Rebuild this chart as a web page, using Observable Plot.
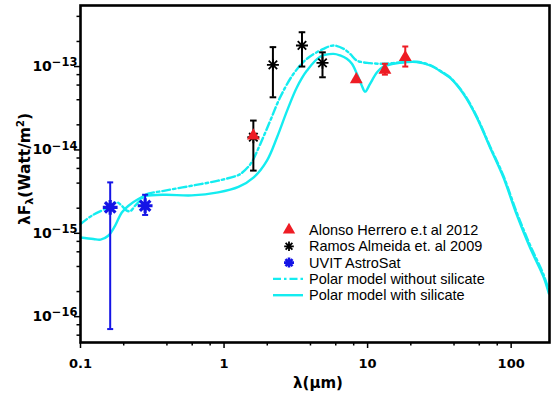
<!DOCTYPE html>
<html>
<head>
<meta charset="utf-8">
<script src="https://cdn.jsdelivr.net/npm/d3@7"></script>
<script src="https://cdn.jsdelivr.net/npm/@observablehq/plot@0.6"></script>
<style>
  body { margin: 0; background: #fff; }
  #chart svg { display: block; }
</style>
</head>
<body>
<div id="chart"></div>
<script>
// Photometry: wavelength (µm), λFλ (W/m²), and error-bar limits
const alonsoWave = [1.6, 8.34, 13.2, 18.3];
const alonsoFlux = [1.48e-14, 7.0e-14, 9.1e-14, 1.29e-13];
const alonsoLow  = [null, null, 8.0e-14, 1.0e-13];
const alonsoHigh = [null, null, 1.08e-13, 1.74e-13];

const ramosWave = [1.6, 2.19, 3.49, 4.85];
const ramosFlux = [1.42e-14, 1.05e-13, 1.79e-13, 1.11e-13];
const ramosLow  = [5.65e-15, 4.28e-14, 1.0e-13, 7.44e-14];
const ramosHigh = [2.25e-14, 1.71e-13, 2.58e-13, 1.48e-13];

const uvitWave = [0.161, 0.282];
const uvitFlux = [2.05e-15, 2.14e-15];
const uvitLow  = [7.1e-17, 1.66e-15];
const uvitHigh = [4.08e-15, 2.9e-15];

// Polar dust model with silicate features
const silWave = [0.1, 0.123, 0.138, 0.156, 0.174, 0.194, 0.216, 0.253, 0.283, 0.388, 0.595, 0.91, 1.26,
  1.61, 1.99, 2.34, 2.75, 3.22, 3.78, 4.69, 5.79, 6.44, 7.17, 7.78, 8.42, 9.12, 9.61, 10.4, 11.6, 12.9,
  15.1, 18.8, 22.0, 27.3, 33.8, 37.6, 46.5, 57.6, 71.3, 88.3, 109, 135, 168, 183];
const silFlux = [8.9e-16, 8.55e-16, 8.4e-16, 9.35e-16, 1.23e-15, 1.78e-15, 2.14e-15, 2.58e-15, 2.8e-15,
  2.9e-15, 2.85e-15, 3.1e-15, 3.6e-15, 4.69e-15, 7.45e-15, 1.42e-14, 2.96e-14, 5.65e-14, 8.95e-14,
  1.32e-13, 1.42e-13, 1.36e-13, 1.24e-13, 1.08e-13, 8.2e-14, 5.9e-14, 5.0e-14, 6.2e-14, 8.5e-14,
  1.0e-13, 1.08e-13, 1.13e-13, 1.13e-13, 1.03e-13, 8.3e-14, 7.3e-14, 4.7e-14, 2.46e-14, 1.07e-14,
  4.69e-15, 1.7e-15, 6.8e-16, 3.0e-16, 1.9e-16];

// Polar dust model without silicate
const noSilWave = [0.1, 0.12, 0.157, 0.179, 0.194, 0.21, 0.223, 0.24, 0.266, 0.282, 0.388, 0.595, 0.91,
  1.22, 1.3, 1.53, 1.79, 2.1, 2.46, 3.05, 3.78, 4.93, 5.79, 6.82, 7.55, 8.42, 10.4, 12.9, 15.1, 18.8,
  22.0, 27.3, 33.8, 37.6, 46.5, 57.6, 71.3, 88.3, 109, 135, 168, 183];
const noSilFlux = [1.29e-15, 1.63e-15, 2.05e-15, 2.35e-15, 2.14e-15, 1.87e-15, 1.85e-15, 2.14e-15,
  2.58e-15, 2.9e-15, 3.25e-15, 3.72e-15, 4.28e-15, 4.9e-15, 5.15e-15, 6.8e-15, 1.18e-14, 2.25e-14,
  4.28e-14, 8.2e-14, 1.24e-13, 1.63e-13, 1.79e-13, 1.63e-13, 1.42e-13, 1.18e-13, 1.1e-13, 1.08e-13,
  1.1e-13, 1.14e-13, 1.14e-13, 1.04e-13, 8.4e-14, 7.4e-14, 4.8e-14, 2.52e-14, 1.1e-14, 4.9e-15,
  1.8e-15, 7.3e-16, 3.2e-16, 2.05e-16];

const xMajor = [0.1, 1, 10, 100];
const xMinor = [0.2, 0.4, 0.6, 0.8, 2, 4, 6, 8, 20, 40, 60, 80];
const yMajor = [1e-16, 1e-15, 1e-14, 1e-13];
const yMinor = [6e-17, 8e-17, 2e-16, 4e-16, 6e-16, 8e-16, 2e-15, 4e-15, 6e-15, 8e-15,
  2e-14, 4e-14, 6e-14, 8e-14, 2e-13, 4e-13];

const legendLabels = ["Alonso Herrero e.t al 2012", "Ramos Almeida et. al 2009", "UVIT AstroSat",
  "Polar model without silicate", "Polar model with silicate"];

const cyan = "#14ecf0";
const red = "#ee1c24";
const blue = "#1414e6";

const rows = (w, f, lo, hi) => w.map((x, i) => ({x, y: f[i], lo: lo ? lo[i] : null, hi: hi ? hi[i] : null}));
const alonso = rows(alonsoWave, alonsoFlux, alonsoLow, alonsoHigh);
const ramos = rows(ramosWave, ramosFlux, ramosLow, ramosHigh);
const uvit = rows(uvitWave, uvitFlux, uvitLow, uvitHigh);
const withSil = rows(silWave, silFlux);
const withoutSil = rows(noSilWave, noSilFlux);

// eight-armed asterisk and horizontal error-bar cap
const star = {
  draw(ctx, size) {
    const r = Math.sqrt(size / Math.PI), d = r * Math.SQRT1_2;
    ctx.moveTo(-r, 0); ctx.lineTo(r, 0);
    ctx.moveTo(0, -r); ctx.lineTo(0, r);
    ctx.moveTo(-d, -d); ctx.lineTo(d, d);
    ctx.moveTo(-d, d); ctx.lineTo(d, -d);
  }
};
const cap = {
  draw(ctx, size) {
    const r = Math.sqrt(size / Math.PI);
    ctx.moveTo(-r, 0); ctx.lineTo(r, 0);
  }
};

function errorBars(data, color, capR, width) {
  const d = data.filter(p => p.lo != null);
  return [
    Plot.ruleX(d, {x: "x", y1: "lo", y2: "hi", stroke: color, strokeWidth: width}),
    Plot.dot(d, {x: "x", y: "lo", symbol: cap, r: capR, stroke: color, strokeWidth: width, fill: "none"}),
    Plot.dot(d, {x: "x", y: "hi", symbol: cap, r: capR, stroke: color, strokeWidth: width, fill: "none"})
  ];
}

const fmtY = d => "10^\u2212" + Math.round(-Math.log10(d));

const svg = Plot.plot({
  width: 555,
  height: 396,
  marginLeft: 80,
  marginRight: 6,
  marginTop: 5,
  marginBottom: 54,
  style: {fontFamily: "DejaVu Sans", fontSize: "13px", fontWeight: "bold", background: "#fff", color: "#000"},
  x: {type: "log", domain: [0.1, 185]},
  y: {type: "log", domain: [4.9e-17, 5.4e-13]},
  marks: [
    Plot.axisX({ticks: xMajor, tickSize: 6, tickPadding: 10, tickFormat: d => String(d), label: null, strokeWidth: 1.5}),
    Plot.axisX({ticks: xMinor, tickSize: 3.5, tickFormat: () => "", label: null, strokeWidth: 1.5}),
    Plot.axisY({ticks: yMajor, tickSize: 6, tickPadding: -3, tickFormat: fmtY, label: null, strokeWidth: 1.5}),
    Plot.axisY({ticks: yMinor, tickSize: 3.5, tickFormat: () => "", label: null, strokeWidth: 1.5}),
    Plot.line(withSil, {x: "x", y: "y", stroke: cyan, strokeWidth: 2.4, curve: "catmull-rom"}),
    Plot.line(withoutSil, {x: "x", y: "y", stroke: cyan, strokeWidth: 2.4, curve: "catmull-rom",
      strokeDasharray: "8,3,2.5,3"}),
    ...errorBars(uvit, blue, 3, 2),
    ...errorBars(ramos, "#000", 3.3, 2),
    ...errorBars(alonso, red, 3, 2),
    Plot.dot(ramos, {x: "x", y: "y", symbol: star, r: 6, stroke: "#000", strokeWidth: 1.8, fill: "none"}),
    Plot.dot(alonso, {x: "x", y: "y", symbol: "triangle", r: 4.8, fill: red, stroke: "none"}),
    Plot.dot(uvit, {x: "x", y: "y", symbol: star, r: 7.4, stroke: blue, strokeWidth: 3.2, fill: "none"}),
    Plot.frame({stroke: "#000", strokeWidth: 2.6})
  ]
});

const root = d3.select(svg);

// superscript exponents on the y tick labels
root.selectAll('g[aria-label="y-axis tick label"] text').each(function () {
  const s = this.textContent;
  if (!s.includes("^")) return;
  const [base, exp] = s.split("^");
  const t = d3.select(this).text(null).attr("font-size", "14px");
  t.append("tspan").text(base);
  t.append("tspan").attr("dy", "-0.42em").attr("font-size", "11.5px").text(exp);
});

// axis titles
root.append("text")
  .attr("x", 318).attr("y", 388)
  .attr("text-anchor", "middle")
  .attr("font-family", "DejaVu Sans").attr("font-weight", "bold").attr("font-size", "15px")
  .text("λ(μm)");

const yt = root.append("text")
  .attr("transform", "translate(30,169) rotate(-90)")
  .attr("text-anchor", "middle")
  .attr("font-family", "DejaVu Sans").attr("font-weight", "bold").attr("font-size", "15.5px");
yt.append("tspan").text("λF");
yt.append("tspan").attr("font-size", "11px").attr("dy", "3").text("λ");
yt.append("tspan").attr("dy", "-3").text("(Watt/m");
yt.append("tspan").attr("font-size", "10px").attr("dy", "-6").text("2");
yt.append("tspan").attr("dy", "6").text(")");

// legend
const lg = root.append("g").attr("font-family", "Liberation Sans").attr("font-weight", "normal")
  .attr("font-size", "14.5px").attr("text-anchor", "start");
const lx = 289, ly = 230, step = 16.3;
const sym = (type, r) => d3.symbol(type, Math.PI * r * r)();
lg.append("path").attr("transform", `translate(${lx},${ly})`).attr("d", sym(d3.symbolTriangle, 4.6)).attr("fill", red);
lg.append("path").attr("transform", `translate(${lx},${ly + step})`).attr("d", sym(star, 4.8))
  .attr("stroke", "#000").attr("stroke-width", 1.8).attr("fill", "none");
lg.append("path").attr("transform", `translate(${lx},${ly + 2 * step})`).attr("d", sym(star, 5))
  .attr("stroke", blue).attr("stroke-width", 2.6).attr("fill", "none");
lg.append("line").attr("x1", 273).attr("x2", 303).attr("y1", ly + 3 * step).attr("y2", ly + 3 * step)
  .attr("stroke", cyan).attr("stroke-width", 2.4).attr("stroke-dasharray", "8,3,2.5,3");
lg.append("line").attr("x1", 273).attr("x2", 303).attr("y1", ly + 4 * step).attr("y2", ly + 4 * step)
  .attr("stroke", cyan).attr("stroke-width", 2.4);
legendLabels.forEach((label, i) => {
  lg.append("text").attr("x", 309).attr("y", ly + i * step + 5).attr("fill", "#000").text(label);
});

document.getElementById("chart").appendChild(svg);
</script>
</body>
</html>
